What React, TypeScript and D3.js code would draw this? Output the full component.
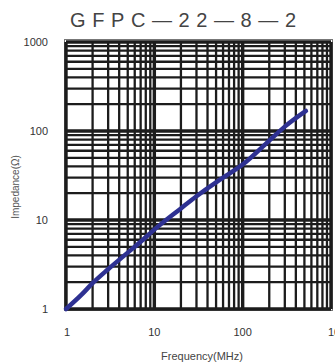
import React from "react";
import * as d3 from "d3";

const title = "GFPC—22—8—2";
const freqMHz = [1, 1.5, 2, 3, 5, 7, 10, 20, 30, 50, 70, 100, 200, 300, 520];
const impedance = [1, 1.45, 1.95, 2.8, 4.3, 5.7, 7.8, 13.5, 18.5, 26.5, 33, 42, 78, 112, 168];
const xTicks = [1, 10, 100, 1000];
const yTicks = [1, 10, 100, 1000];
const xTickLabels = ["1", "10", "100", "1000"];
const yTickLabels = ["1", "10", "100", "1000"];

const W = 335;
const H = 364;
const M = { left: 66, right: 331, top: 42, bottom: 309 };

export default function App() {
  const x = d3.scaleLog().domain([1, 1000]).range([M.left, M.right]);
  const y = d3.scaleLog().domain([1, 1000]).range([M.bottom, M.top]);

  const gridVals: { v: number; major: boolean }[] = [];
  for (let d = 1; d < 1000; d *= 10) {
    for (let k = 1; k <= 9; k++) gridVals.push({ v: d * k, major: k === 1 });
  }
  gridVals.push({ v: 1000, major: true });

  const line = d3
    .line<number>()
    .x((_, i) => x(freqMHz[i]))
    .y((d) => y(d))
    .curve(d3.curveMonotoneX);

  const font = "'Liberation Sans', Arial, sans-serif";

  return (
    <svg
      width={W}
      height={H}
      style={{ position: "absolute", left: 0, top: 0, background: "#fff" }}
    >
      <rect x={0} y={0} width={W} height={H} fill="#fff" />
      <text
        x={70}
        y={27}
        fontFamily={font}
        fontSize={20}
        fill="#444"
        textLength={226}
        lengthAdjust="spacing"
      >
        {title}
      </text>
      <rect
        x={M.left - 1.5}
        y={M.top - 2.5}
        width={M.right - M.left + 3}
        height={M.bottom - M.top + 4}
        fill="#fff"
        stroke="#777"
        strokeWidth={1}
      />
      {gridVals.map((g, i) => (
        <line
          key={"v" + i}
          x1={x(g.v)}
          x2={x(g.v)}
          y1={M.top}
          y2={M.bottom}
          stroke="#1c1c1c"
          strokeWidth={g.major ? 3.4 : 2.3}
        />
      ))}
      {gridVals.map((g, i) => (
        <line
          key={"h" + i}
          x1={M.left}
          x2={M.right}
          y1={y(g.v)}
          y2={y(g.v)}
          stroke="#1c1c1c"
          strokeWidth={g.major ? 3.4 : 2.3}
        />
      ))}
      <path
        d={line(impedance) || ""}
        fill="none"
        stroke="#2e3192"
        strokeWidth={4.5}
        strokeLinecap="round"
      />
      {yTicks.map((t, i) => (
        <text
          key={"yt" + i}
          x={48}
          y={y(t) + 4}
          textAnchor="end"
          fontFamily={font}
          fontSize={11}
          fill="#333"
        >
          {yTickLabels[i]}
        </text>
      ))}
      {xTicks.map((t, i) => (
        <text
          key={"xt" + i}
          x={x(t) + (i === 0 ? 1 : 0)}
          y={336}
          textAnchor={i === 3 ? "start" : "middle"}
          dx={i === 3 ? -3 : 0}
          fontFamily={font}
          fontSize={11}
          fill="#333"
        >
          {xTickLabels[i]}
        </text>
      ))}
      <text
        x={202}
        y={360}
        textAnchor="middle"
        fontFamily={font}
        fontSize={11}
        fill="#444"
      >
        Frequency(MHz)
      </text>
      <text
        transform={`translate(19,${187}) rotate(-90)`}
        textAnchor="middle"
        fontFamily={font}
        fontSize={10}
        fill="#555"
      >
        Impedance(Ω)
      </text>
    </svg>
  );
}
